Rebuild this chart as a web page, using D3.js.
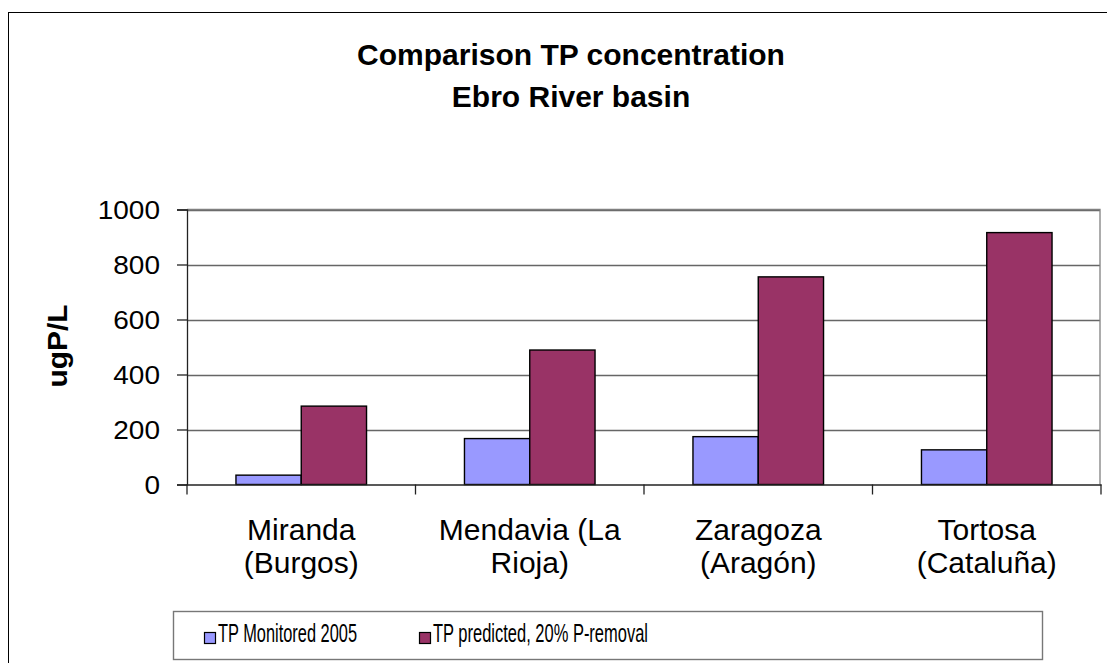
<!DOCTYPE html>
<html>
<head>
<meta charset="utf-8">
<script src="https://cdn.jsdelivr.net/npm/d3@7/dist/d3.min.js"></script>
<style>
  html, body { margin: 0; padding: 0; background: #fff; }
  svg { display: block; font-family: Arial, "Liberation Sans", sans-serif; }
</style>
</head>
<body>
<svg id="chart" width="1107" height="663"></svg>
<script>
// Total phosphorus by monitoring station (ugP/L)
const categories = ["Miranda (Burgos)", "Mendavia (La Rioja)", "Zaragoza (Aragón)", "Tortosa (Cataluña)"];
const seriesNames = ["TP Monitored 2005", "TP predicted, 20% P-removal"];
const monitored = [34, 167, 174, 126];
const predicted = [285, 489, 755, 916];
const yTicks = [0, 200, 400, 600, 800, 1000];
const titleLines = ["Comparison TP concentration", "Ebro River basin"];
const yTitle = "ugP/L";

const colors = ["#9999FF", "#993366"];
const series = [monitored, predicted];

const svg = d3.select("#chart");

// chart frame
svg.append("rect")
  .attr("x", 8.5).attr("y", 12.5)
  .attr("width", 1110).attr("height", 670)
  .attr("fill", "#fff").attr("stroke", "#000").attr("stroke-width", 1);

const plot = { left: 187, right: 1101, top: 209.5, bottom: 484.5 };

const x0 = d3.scaleBand()
  .domain(categories)
  .range([plot.left, plot.right])
  .paddingInner(1.5 / 3.5)
  .paddingOuter(1.5 / 7);

const x1 = d3.scaleBand()
  .domain(d3.range(seriesNames.length))
  .range([0, x0.bandwidth()]);

const y = d3.scaleLinear().domain([0, 1000]).range([plot.bottom, plot.top]);

// gridlines
svg.append("g")
  .selectAll("line")
  .data(yTicks.filter(d => d > 0))
  .join("line")
  .attr("x1", plot.left).attr("x2", plot.right - 1)
  .attr("y1", d => Math.round(y(d)) + 0.5).attr("y2", d => Math.round(y(d)) + 0.5)
  .attr("stroke", "#666").attr("stroke-width", 1.3);

// plot area border (top and right)
svg.append("path")
  .attr("d", `M${plot.left},${plot.top}H${plot.right - 1}V${plot.bottom}`)
  .attr("fill", "none").attr("stroke", "#808080").attr("stroke-width", 1.3);

// bars
const groups = svg.append("g")
  .selectAll("g")
  .data(categories)
  .join("g")
  .attr("transform", d => `translate(${x0(d)},0)`);

groups.selectAll("rect")
  .data((d, i) => series.map((s, k) => ({ k, v: s[i] })))
  .join("rect")
  .attr("x", d => x1(d.k))
  .attr("width", x1.bandwidth())
  .attr("y", d => y(d.v))
  .attr("height", d => y(0) - y(d.v))
  .attr("fill", d => colors[d.k])
  .attr("stroke", "#000").attr("stroke-width", 1.4);

// y axis
const yAxis = svg.append("g")
  .attr("transform", `translate(${plot.left},0)`)
  .call(d3.axisLeft(y).tickValues(yTicks).tickSize(10).tickPadding(0).tickFormat(d3.format("d")));
yAxis.select(".domain").attr("stroke", "#222").attr("stroke-width", 1.3);
yAxis.selectAll(".tick line").attr("stroke", "#222").attr("stroke-width", 1.3);
yAxis.selectAll(".tick text")
  .attr("font-size", 25)
  .attr("fill", "#000")
  .attr("dy", "0.36em")
  .attr("x", -27 / 1.12)
  .attr("transform", "scale(1.12,1)")
  .attr("font-family", "Arial, 'Liberation Sans', sans-serif");

// x axis with ticks at category boundaries
const xAxis = svg.append("g")
  .attr("transform", `translate(0,${plot.bottom})`)
  .call(d3.axisBottom(x0).tickSize(0).tickFormat(""));
xAxis.select(".domain").attr("stroke", "#222").attr("stroke-width", 1.3);
xAxis.selectAll(".tick").remove();
const step = x0.step();
xAxis.append("g")
  .selectAll("line")
  .data(d3.range(categories.length + 1))
  .join("line")
  .attr("x1", i => plot.left + i * step).attr("x2", i => plot.left + i * step)
  .attr("y1", 0).attr("y2", 10)
  .attr("stroke", "#222").attr("stroke-width", 1.3);

// category labels, wrapped to two lines
const catLabels = svg.append("g")
  .selectAll("text")
  .data(categories)
  .join("text")
  .attr("x", d => x0(d) + x0.bandwidth() / 2)
  .attr("y", 540)
  .attr("text-anchor", "middle")
  .attr("font-size", 30)
  .attr("fill", "#000");

catLabels.each(function (d) {
  const t = d3.select(this);
  const words = d.split(" ");
  const lines = [];
  let line = [];
  const probe = t.append("tspan");
  for (const w of words) {
    const next = line.concat(w);
    probe.text(next.join(" "));
    if (line.length && probe.node().getComputedTextLength() > 200) {
      lines.push(line.join(" "));
      line = [w];
    } else {
      line = next;
    }
  }
  lines.push(line.join(" "));
  probe.remove();
  lines.forEach((ln, i) => {
    t.append("tspan")
      .attr("x", x0(d) + x0.bandwidth() / 2)
      .attr("dy", i === 0 ? 0 : 33)
      .text(ln);
  });
});

// title
svg.append("g")
  .selectAll("text")
  .data(titleLines)
  .join("text")
  .attr("x", 571)
  .attr("y", (d, i) => 65 + i * 42)
  .attr("text-anchor", "middle")
  .attr("font-size", 30)
  .attr("font-weight", "bold")
  .attr("fill", "#000")
  .text(d => d);

// y axis title
svg.append("text")
  .attr("transform", "translate(67,346) rotate(-90)")
  .attr("text-anchor", "middle")
  .attr("font-size", 27)
  .attr("font-weight", "bold")
  .attr("textLength", 83)
  .attr("lengthAdjust", "spacingAndGlyphs")
  .attr("fill", "#000")
  .text(yTitle);

// legend
const legend = svg.append("g");
legend.append("rect")
  .attr("x", 173.5).attr("y", 611.5)
  .attr("width", 869).attr("height", 48)
  .attr("fill", "#fff").attr("stroke", "#777").attr("stroke-width", 1.4);

const legendX = [204, 419];
const legendW = [139, 215];
const items = legend.selectAll("g.item")
  .data(seriesNames)
  .join("g")
  .attr("class", "item")
  .attr("transform", (d, i) => `translate(${legendX[i]},0)`);
items.append("rect")
  .attr("x", 0.5).attr("y", 632.5)
  .attr("width", 11).attr("height", 11)
  .attr("fill", (d, i) => colors[i])
  .attr("stroke", "#000").attr("stroke-width", 1.2);
items.append("text")
  .attr("x", 14).attr("y", 642)
  .attr("font-size", 26)
  .attr("textLength", (d, i) => legendW[i])
  .attr("lengthAdjust", "spacingAndGlyphs")
  .attr("fill", "#000")
  .text(d => d);
</script>
</body>
</html>
